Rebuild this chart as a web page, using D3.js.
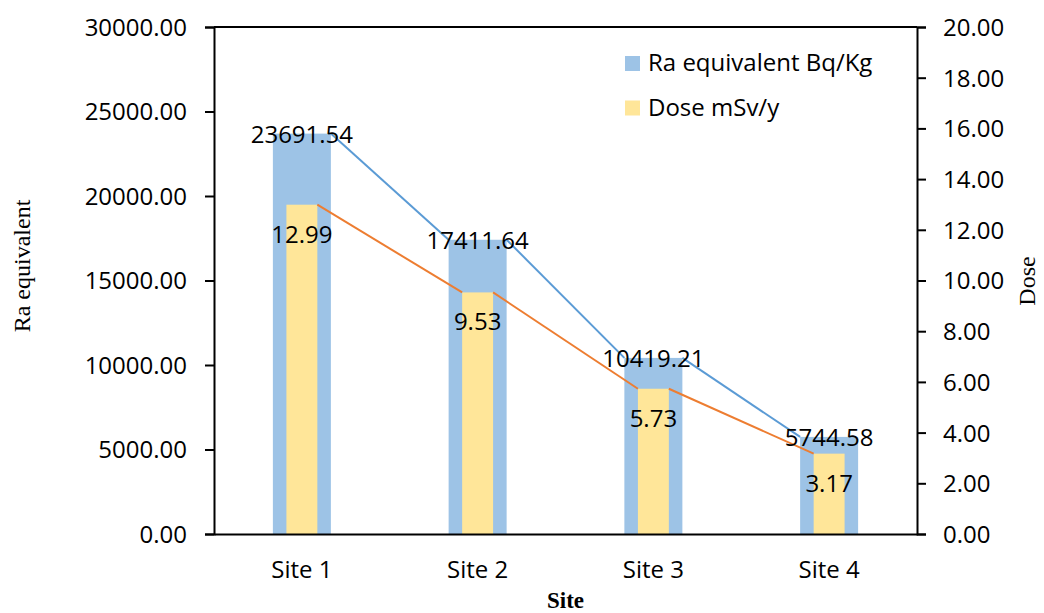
<!DOCTYPE html>
<html lang="en">
<head>
<meta charset="UTF-8">
<title>Ra equivalent and Dose by Site</title>
<script src="https://d3js.org/d3.v7.min.js"></script>
<style>
    body{ margin:0; background:#fff; }
    text{ font-family:"Open Sans", sans-serif; fill:#000; }
    .serif{ font-family:"Liberation Serif", "Times New Roman", serif; }
    .domain, .tick line{ stroke:#000; stroke-width:2px; }
</style>
</head>
<body>
<svg width="1044" height="613"></svg>
<script>
// data
const sites = ["Site 1", "Site 2", "Site 3", "Site 4"];
const raEq = [23691.54, 17411.64, 10419.21, 5744.58];
const dose = [12.99, 9.53, 5.73, 3.17];
const leftTicks = [0, 5000, 10000, 15000, 20000, 25000, 30000];
const rightTicks = [0, 2, 4, 6, 8, 10, 12, 14, 16, 18, 20];

const svg = d3.select("svg");
const plot = {left:214, right:917, top:27, bottom:534};

const x = d3.scaleBand().domain(sites).range([plot.left, plot.right]).padding(0);
const yL = d3.scaleLinear().domain([0, 30000]).range([plot.bottom, plot.top]);
const yR = d3.scaleLinear().domain([0, 20]).range([plot.bottom, plot.top]);

const blueW = x.step() * 0.33;
const yellowW = x.step() * 0.176;
const cx = function(s){ return x(s) + x.bandwidth() / 2; };

const rows = sites.map(function(s, i){ return {site:s, ra:raEq[i], dose:dose[i]}; });

// top border line
svg.append("line")
    .attr("x1", plot.left).attr("x2", plot.right)
    .attr("y1", yL(30000)).attr("y2", yL(30000))
    .attr("stroke", "#000").attr("stroke-width", 2);

// blue bars (primary axis)
svg.append("g").selectAll("rect").data(rows).join("rect")
    .attr("x", function(d){ return cx(d.site) - blueW / 2; })
    .attr("width", blueW)
    .attr("y", function(d){ return yL(d.ra); })
    .attr("height", function(d){ return yL(0) - yL(d.ra); })
    .attr("fill", "#9DC3E6");

// yellow bars (secondary axis)
svg.append("g").selectAll("rect").data(rows).join("rect")
    .attr("x", function(d){ return cx(d.site) - yellowW / 2; })
    .attr("width", yellowW)
    .attr("y", function(d){ return yR(d.dose); })
    .attr("height", function(d){ return yR(0) - yR(d.dose); })
    .attr("fill", "#FFE699");

// series lines: top-right of one bar to top-left of the next
function seriesLines(w, yScale, key, color){
    const segs = d3.pairs(rows);
    svg.append("g").selectAll("line").data(segs).join("line")
        .attr("x1", function(p){ return cx(p[0].site) + w / 2; })
        .attr("y1", function(p){ return yScale(p[0][key]); })
        .attr("x2", function(p){ return cx(p[1].site) - w / 2; })
        .attr("y2", function(p){ return yScale(p[1][key]); })
        .attr("stroke", color).attr("stroke-width", 2);
}
seriesLines(blueW, yL, "ra", "#5B9BD5");
seriesLines(yellowW, yR, "dose", "#ED7D31");

// data labels
svg.append("g").selectAll("text").data(rows).join("text")
    .attr("x", function(d){ return cx(d.site); })
    .attr("y", function(d){ return yL(d.ra) + 9; })
    .attr("text-anchor", "middle")
    .style("font-size", "24px")
    .text(function(d){ return d3.format(".2f")(d.ra); });

svg.append("g").selectAll("text").data(rows).join("text")
    .attr("x", function(d){ return cx(d.site); })
    .attr("y", function(d){ return yR(d.dose) + 38; })
    .attr("text-anchor", "middle")
    .style("font-size", "24px")
    .text(function(d){ return d3.format(".2f")(d.dose); });

// axes
const leftAxis = svg.append("g")
    .attr("transform", "translate(" + plot.left + ",0)")
    .call(d3.axisLeft(yL).tickValues(leftTicks).tickFormat(d3.format(".2f")).tickSize(9).tickPadding(18));
const rightAxis = svg.append("g")
    .attr("transform", "translate(" + plot.right + ",0)")
    .call(d3.axisRight(yR).tickValues(rightTicks).tickFormat(d3.format(".2f")).tickSize(9).tickPadding(17));
const bottomAxis = svg.append("g")
    .attr("transform", "translate(0," + plot.bottom + ")")
    .call(d3.axisBottom(x).tickSize(0).tickPadding(27).tickSizeOuter(0));

[leftAxis, rightAxis, bottomAxis].forEach(function(a){
    a.selectAll("text").style("font-size", "24px").style("font-family", "'Open Sans', sans-serif").attr("fill", "#000");
});
leftAxis.selectAll(".tick text").attr("dy", "0.35em");
rightAxis.selectAll(".tick text").attr("dy", "0.35em");

// axis titles
svg.append("text").attr("class", "serif")
    .attr("transform", "translate(30,266) rotate(-90)")
    .attr("text-anchor", "middle")
    .style("font-size", "24px")
    .text("Ra equivalent");
svg.append("text").attr("class", "serif")
    .attr("transform", "translate(1035,281) rotate(-90)")
    .attr("text-anchor", "middle")
    .style("font-size", "24px")
    .text("Dose");
svg.append("text").attr("class", "serif")
    .attr("x", (plot.left + plot.right) / 2).attr("y", 608)
    .attr("text-anchor", "middle")
    .style("font-size", "23px").style("font-weight", "bold")
    .text("Site");

// legend
const legend = [{name:"Ra equivalent Bq/Kg", color:"#9DC3E6"}, {name:"Dose mSv/y", color:"#FFE699"}];
const lg = svg.append("g").attr("transform", "translate(625,56)");
lg.selectAll("rect").data(legend).join("rect")
    .attr("x", 0).attr("y", function(d, i){ return i * 44.5; })
    .attr("width", 15).attr("height", 15)
    .attr("fill", function(d){ return d.color; });
lg.selectAll("text").data(legend).join("text")
    .attr("x", 23).attr("y", function(d, i){ return i * 44.5 + 15; })
    .style("font-size", "24px")
    .text(function(d){ return d.name; });
</script>
</body>
</html>
